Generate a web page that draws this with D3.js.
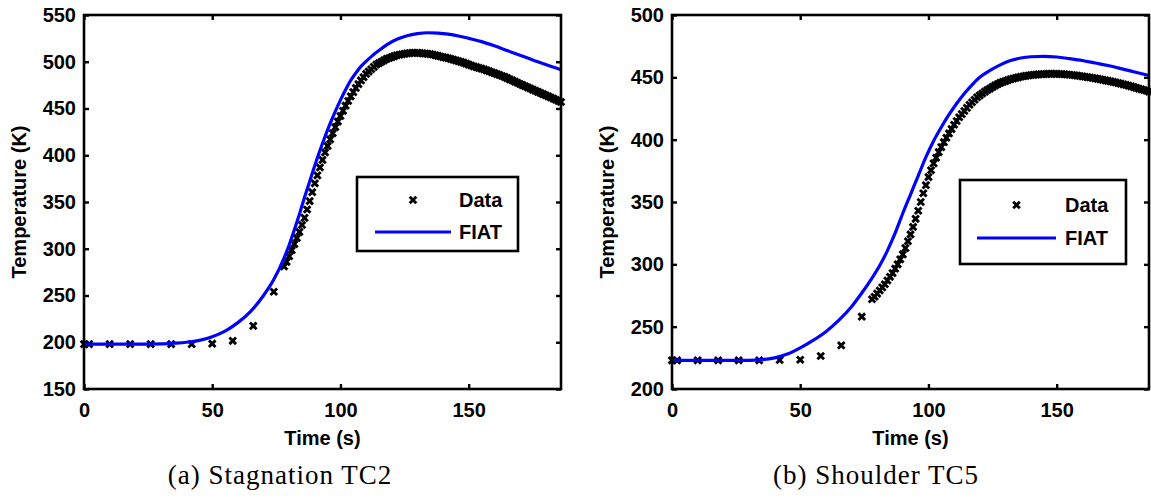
<!DOCTYPE html>
<html><head><meta charset="utf-8">
<script src="https://cdn.jsdelivr.net/npm/d3@7"></script>
<style>body{margin:0;background:#fff} svg{display:block}</style>
</head><body>
<svg id="c" width="1151" height="499"></svg>
<script>
// ---------- data ----------
const xTicks = [0, 50, 100, 150];
const yTicksA = [150, 200, 250, 300, 350, 400, 450, 500, 550];
const yTicksB = [200, 250, 300, 350, 400, 450, 500];
const captions = ["(a) Stagnation TC2", "(b) Shoulder TC5"];
const legendLabels = ["Data", "FIAT"];

const dataTime = [0,2,10,18,26,34,42,50,58,66,74,
 78,79,80,81,82,83,84,85,86,87,88,89,90,91,92,93,94,95,96,97,98,99,100,
 101,102,103,104,105,106,107,108,109,110,111,112,113,114,115,116,117,118,119,120,
 121,122,123,124,125,126,127,128,129,130,131,132,133,134,135,136,137,138,139,140,
 141,142,143,144,145,146,147,148,149,150,151,152,153,154,155,156,157,158,159,160,
 161,162,163,164,165,166,167,168,169,170,171,172,173,174,175,176,177,178,179,180,
 181,182,183,184,185,186];

const dataStagnation = [198,198,198,198,198,198,198,198.5,201.5,217.5,254,
 281,286,292,298.5,305,311.5,318,325.5,333,342,351,360.5,370,378.5,387,395,403,410,417,423.5,430,436,442,
 447.5,453,458,463,467.5,472,476,480,483.5,487,489.5,492,494.5,497,498.5,500,501.5,503,504,505,
 506,507,507.5,508,508.5,509,509.2,509.5,509.5,509.5,509.3,509,508.8,508.5,508.2,507.8,507,506.3,505.6,505,
 504.4,503.7,503,502.2,501.4,500.6,499.8,499,498,497,496,495,494.2,493.4,492.6,491.8,490.8,489.8,488.8,487.8,
 486.8,485.8,484.8,483.8,482.5,481.2,480,478.8,477.5,476.2,475,473.8,472.6,471.4,470.2,469,467.8,466.6,465.4,464.2,
 463,461.8,460.6,459.4,458.2,457];

const dataShoulder = [223,223,223,223,223,223,223.3,223.5,226.5,235,258,
 272,274,276.5,279,281.5,284,287,290,293,296.5,300,304,308,313,318.5,324,330,336.5,343,350,357,363.5,370,
 375.5,381,385.5,390,394,398,401.5,405,408.5,412,415,418,420.5,423,425.5,428,430,432,434,435.5,
 437,438.5,439.8,441,442.3,443.5,444.5,445.5,446.3,447,447.8,448.5,449,449.5,450,450.5,450.9,451.2,451.5,451.8,
 452,452.2,452.4,452.5,452.6,452.7,452.8,452.8,452.8,452.8,452.7,452.6,452.5,452.3,452.1,451.9,451.7,451.4,451.1,450.8,
 450.5,450.2,449.9,449.5,449.2,448.8,448.4,448,447.6,447.2,446.8,446.3,445.9,445.4,444.9,444.4,443.9,443.3,442.8,442.2,
 441.6,441,440.4,439.8,439.2,438.5];

const fiatTimeA = [0,10,20,30,35,40,45,50,55,60,65,70,74,78,80,82,84,86,88,90,92,94,96,98,100,102,104,106,108,110,112,115,118,122,126,130,134,138,142,146,150,155,160,165,170,175,180,186];
const fiatStagnation = [198,198,198,198.3,199,200,202,206,212,221,233,250,267,290,304,320,337,355,372,389,405,420,434,447,459,470,480,488,495,500.5,505.5,512,518,524,527.8,530,531,530.6,529.5,527.6,525,521.5,517,512,507,502,497,491.5];

const fiatTimeB = [0,10,20,30,35,40,45,50,55,60,65,70,74,78,81,84,87,90,93,96,99,102,105,108,111,114,117,120,124,128,132,136,140,145,150,155,160,165,170,175,180,186];
const fiatShoulder = [223,223,223,223,223.5,225,228,233,239,246,255,266,277,289,299,311,325,341,356,371,386,399,410,420,429,437,444,450,455.5,460,463.5,465.5,466.5,466.8,466.3,465,463.5,461.5,459.5,457,454.5,451.5];

// ---------- drawing ----------
const svg = d3.select("#c");
const FONT = "'Liberation Sans', Arial, Helvetica, sans-serif";
const FS = 20;
const BLUE = "#0000ff";
const xMax = 186;

function xMarker(sel, s) {
  sel.attr("d", `M${-s},${-s}L${s},${s}M${-s},${s}L${s},${-s}`)
     .attr("fill", "none").attr("stroke", "#000").attr("stroke-width", 2.9);
}

function drawPanel(cfg) {
  const x = d3.scaleLinear().domain([0, xMax]).range([cfg.left, cfg.right]);
  const y = d3.scaleLinear().domain(cfg.yDomain).range([cfg.bottom, cfg.top]);
  const g = svg.append("g");

  const styleAxis = (ax, labels) => {
    ax.select(".domain").remove();
    ax.selectAll(".tick line").attr("stroke", "#000").attr("stroke-width", 2.4);
    if (!labels) ax.selectAll(".tick text").remove();
    else ax.selectAll(".tick text").attr("font-family", FONT).attr("font-weight", "bold")
          .attr("font-size", FS).attr("fill", "#000");
  };

  styleAxis(g.append("g").attr("transform", `translate(0,${cfg.bottom})`)
    .call(d3.axisBottom(x).tickValues(xTicks).tickSize(-5).tickPadding(14)), true);
  styleAxis(g.append("g").attr("transform", `translate(0,${cfg.top})`)
    .call(d3.axisTop(x).tickValues(xTicks).tickSize(-5)), false);
  styleAxis(g.append("g").attr("transform", `translate(${cfg.left},0)`)
    .call(d3.axisLeft(y).tickValues(cfg.yTicks).tickSize(-5).tickPadding(8)), true);
  styleAxis(g.append("g").attr("transform", `translate(${cfg.right},0)`)
    .call(d3.axisRight(y).tickValues(cfg.yTicks).tickSize(-5)), false);

  // data markers
  g.append("g").selectAll("path").data(dataTime).join("path")
    .attr("transform", (d, i) => `translate(${x(d)},${y(cfg.data[i])})`)
    .call(xMarker, 3.3);

  // FIAT line
  const line = d3.line().x((d, i) => x(cfg.fiatT[i])).y(d => y(d)).curve(d3.curveMonotoneX);
  g.append("path").datum(cfg.fiat).attr("d", line)
    .attr("fill", "none").attr("stroke", BLUE).attr("stroke-width", 3.2);

  // frame
  g.append("rect").attr("x", cfg.left).attr("y", cfg.top)
    .attr("width", cfg.right - cfg.left).attr("height", cfg.bottom - cfg.top)
    .attr("fill", "none").attr("stroke", "#000").attr("stroke-width", 2.6);

  // axis titles
  g.append("text").attr("x", (cfg.left + cfg.right) / 2).attr("y", cfg.bottom + 56)
    .attr("text-anchor", "middle").attr("font-family", FONT).attr("font-weight", "bold")
    .attr("font-size", FS).text("Time (s)");
  g.append("text").attr("transform", `translate(${cfg.ytitleX},${(cfg.top + cfg.bottom) / 2}) rotate(-90)`)
    .attr("text-anchor", "middle").attr("font-family", FONT).attr("font-weight", "bold")
    .attr("font-size", FS).text("Temperature (K)");

  // legend
  const L = cfg.legend;
  g.append("rect").attr("x", L.x0).attr("y", L.y0).attr("width", L.x1 - L.x0).attr("height", L.y1 - L.y0)
    .attr("fill", "#fff").attr("stroke", "#000").attr("stroke-width", 2.6);
  g.append("path").attr("transform", `translate(${(L.lx0 + L.lx1) / 2},${L.r1})`).call(xMarker, 3.3);
  g.append("line").attr("x1", L.lx0).attr("x2", L.lx1).attr("y1", L.r2).attr("y2", L.r2)
    .attr("stroke", BLUE).attr("stroke-width", 3.2);
  [L.r1, L.r2].forEach((ry, i) => {
    g.append("text").attr("x", L.tx).attr("y", ry).attr("dy", "0.35em")
      .attr("font-family", FONT).attr("font-weight", "bold").attr("font-size", FS)
      .text(legendLabels[i]);
  });

  // caption
  g.append("text").attr("x", cfg.capX).attr("y", 484).attr("text-anchor", "middle")
    .attr("font-family", "'Liberation Serif', 'Times New Roman', serif").attr("font-size", 27)
    .attr("letter-spacing", 1).text(cfg.caption);
}

drawPanel({
  left: 84, right: 561, top: 15, bottom: 389,
  yDomain: [150, 550], yTicks: yTicksA,
  data: dataStagnation, fiat: fiatStagnation, fiatT: fiatTimeA,
  ytitleX: 26, capX: 280, caption: captions[0],
  legend: {x0: 357, x1: 518, y0: 177, y1: 251, lx0: 375, lx1: 451, tx: 459, r1: 200, r2: 232}
});
drawPanel({
  left: 672, right: 1149, top: 15, bottom: 389,
  yDomain: [200, 500], yTicks: yTicksB,
  data: dataShoulder, fiat: fiatShoulder, fiatT: fiatTimeB,
  ytitleX: 614, capX: 876, caption: captions[1],
  legend: {x0: 960, x1: 1126, y0: 180, y1: 264, lx0: 977, lx1: 1056, tx: 1065, r1: 205, r2: 238}
});
</script>
</body></html>
